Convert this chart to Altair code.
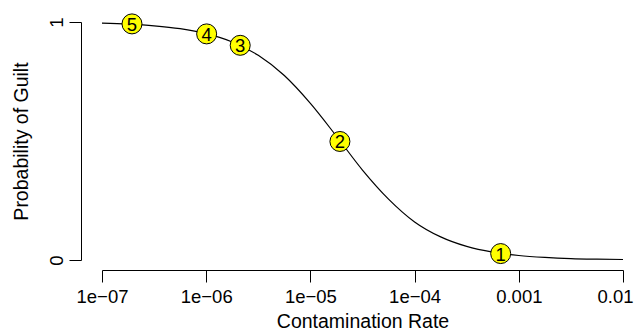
import altair as alt
import pandas as pd

# Curve (contamination rate, probability of guilt)
curve_x = [1e-07, 1.78e-07, 3.16e-07, 5.62e-07, 1e-06, 1.78e-06, 3.16e-06, 5.62e-06,
           1e-05, 1.78e-05, 3.16e-05, 5.62e-05, 1e-04, 1.78e-04, 3.16e-04, 5.62e-04,
           1e-03, 1.78e-03, 3.16e-03, 5.62e-03, 1e-02]
curve_p = [0.995, 0.991, 0.984, 0.972, 0.951, 0.916, 0.860, 0.775,
           0.658, 0.520, 0.378, 0.256, 0.160, 0.097, 0.057, 0.033,
           0.019, 0.011, 0.006, 0.0035, 0.002]

# Labelled points
point_x = [6.7e-04, 1.92e-05, 2.12e-06, 1.01e-06, 1.94e-07]
point_p = [0.027, 0.498, 0.902, 0.950, 0.992]
point_lab = ["1", "2", "3", "4", "5"]

# Axis ticks
x_ticks = [1e-07, 1e-06, 1e-05, 1e-04, 1e-03, 1e-02]
x_tick_labels = ["1e\u221207", "1e\u221206", "1e\u221205", "1e\u221204", "0.001", "0.01"]
y_ticks = [0, 1]

curve = pd.DataFrame({"x": curve_x, "p": curve_p})
pts = pd.DataFrame({"x": point_x, "p": point_p, "lab": point_lab})

FONT = "Liberation Sans"
lab_js = "[" + ",".join("'" + s + "'" for s in x_tick_labels) + "]"

xs = alt.Scale(type="log", domain=[1e-07, 1e-02], nice=False)
ys = alt.Scale(domain=[0, 1], nice=False, zero=False)

xaxis = alt.Axis(values=x_ticks, labelExpr=lab_js + "[round(log(datum.value)/LN10)+7]",
                 title="Contamination Rate", grid=False, offset=10, tickSize=12,
                 domainColor="black", tickColor="black", domainWidth=1, tickWidth=1,
                 labelFont=FONT, labelFontSize=18.5, labelColor="black", labelPadding=5,
                 labelFlush=False, labelOverlap=False,
                 labelOffset={"condition": {"test": "datum.value > 0.005", "value": -8},
                              "value": 0},
                 titleFont=FONT, titleFontSize=19.5, titleFontWeight="normal",
                 titleColor="black", titlePadding=7)
yaxis = alt.Axis(values=y_ticks, format="d", title="Probability of Guilt", grid=False,
                 offset=21, tickSize=12, domainColor="black", tickColor="black",
                 domainWidth=1, tickWidth=1, labelAngle=270, labelAlign="center",
                 labelBaseline="bottom", labelFont=FONT, labelFontSize=18.5,
                 labelColor="black", labelPadding=3, labelFlush=False,
                 titleFont=FONT, titleFontSize=19.5, titleFontWeight="normal",
                 titleColor="black", titlePadding=16)

line = alt.Chart(curve).mark_line(color="black", strokeWidth=1.2, interpolate="monotone",
                                  clip=False).encode(
    x=alt.X("x:Q", scale=xs, axis=xaxis),
    y=alt.Y("p:Q", scale=ys, axis=yaxis),
)
dots = alt.Chart(pts).mark_point(shape="circle", filled=True, fill="yellow", stroke="black",
                                 strokeWidth=1, opacity=1, size=400).encode(
    x=alt.X("x:Q", scale=xs), y=alt.Y("p:Q", scale=ys))
txt = alt.Chart(pts).mark_text(font=FONT, fontSize=18.5, color="black", align="center",
                               baseline="middle", dy=1).encode(
    x=alt.X("x:Q", scale=xs), y=alt.Y("p:Q", scale=ys), text="lab:N")

chart = (line + dots + txt).properties(
    width=521, height=238,
    autosize=alt.AutoSizeParams(type="none"),
    padding={"left": 94, "top": 14, "right": 12, "bottom": 75},
).configure(background="white").configure_view(strokeWidth=0, stroke="transparent")

chart.save("out.html", embed_options={"renderer": "svg", "actions": False})
